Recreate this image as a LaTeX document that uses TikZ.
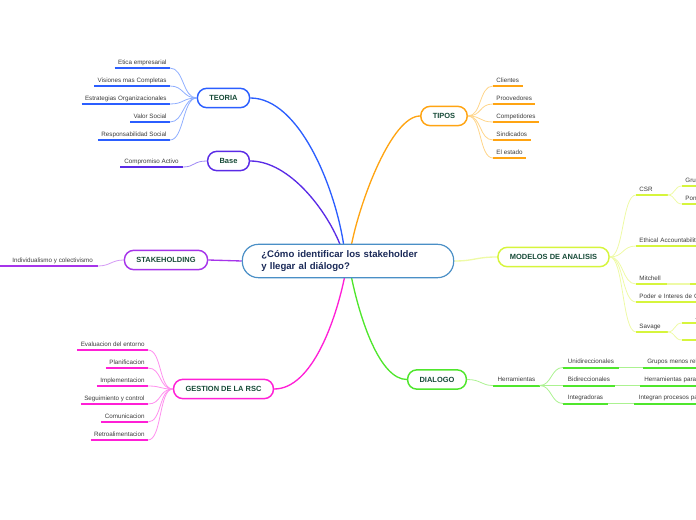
\documentclass[tikz,border=0pt]{standalone}
\usepackage{fontspec}
\setmainfont{Liberation Sans}
\usetikzlibrary{backgrounds}
\definecolor{cteo}{HTML}{2B5EFF}
\definecolor{cteol}{HTML}{8FAEFF}
\definecolor{cbase}{HTML}{5A2BE6}
\definecolor{cbasel}{HTML}{A08AF5}
\definecolor{cstk}{HTML}{A634EA}
\definecolor{cstkl}{HTML}{D49AF5}
\definecolor{cges}{HTML}{FF1FD6}
\definecolor{cgesl}{HTML}{FF90EE}
\definecolor{ctip}{HTML}{FFA412}
\definecolor{ctipl}{HTML}{FFD58A}
\definecolor{cmod}{HTML}{D6F53C}
\definecolor{cmodl}{HTML}{EEFAA6}
\definecolor{cdia}{HTML}{4FE62C}
\definecolor{cdial}{HTML}{ABF290}
\definecolor{ccen}{HTML}{4A8FC6}
\definecolor{ctxt}{HTML}{164A37}
\definecolor{cnavy}{HTML}{1B2A58}
\definecolor{cleaf}{HTML}{3C3C3C}
\tikzset{
  mainbox/.style={draw=#1, line width=1.1pt, rounded corners=7pt, fill=white,
    inner xsep=9pt, minimum height=14.5pt, text=ctxt,
    font=\bfseries\fontsize{5.6}{6.5}\selectfont},
  leaf/.style={inner xsep=2.4pt, inner ysep=1.6pt, text height=3.6pt, text depth=0.9pt,
    text=cleaf, font=\fontsize{4.7}{5.5}\selectfont},
  ul/.style={draw=#1, line width=1.5pt},
  lk/.style={draw=#1, line width=0.6pt},
  mk/.style={draw=#1, line width=1pt},
}
\begin{document}
\begin{tikzpicture}[x=0.75pt,y=-0.75pt]
\useasboundingbox (0,0) rectangle (696,520);
\clip (0,0) rectangle (696,520);

% central node
\node[draw=ccen, line width=0.9pt, rounded corners=12pt, fill=white, text width=130pt,
  align=left, inner xsep=14.25pt, minimum height=25pt, text=cnavy,
  font=\bfseries\fontsize{7.2}{8.3}\selectfont] (cen) at (348,261)
  {¿Cómo identificar los stakeholder\\y llegar al diálogo?};

% main nodes
\node[mainbox=cteo] (teoria) at (223.5,98) {TEORIA};
\node[mainbox=cbase] (base) at (228.5,161) {Base};
\node[mainbox=cstk] (stake) at (166,260) {STAKEHOLDING};
\node[mainbox=cges] (gestion) at (223.5,389) {GESTION DE LA RSC};
\node[mainbox=ctip] (tipos) at (444,116) {TIPOS};
\node[mainbox=cmod] (modelos) at (553.5,257) {MODELOS DE ANALISIS};
\node[mainbox=cdia] (dialogo) at (437,379.5) {DIALOGO};

\coordinate (cta) at (344,247);
\coordinate (ctb) at (341,247);
\coordinate (ctc) at (351,247);
\coordinate (cba) at (345,275);
\coordinate (cbb) at (351,275);

\begin{scope}[on background layer]
\draw[mk=cteo] (teoria.east) .. controls (300,98) and (336,190) .. (cta);
\draw[mk=cbase] (base.east) .. controls (290,161) and (328,212) .. (ctb);
\draw[mk=ctip] (tipos.west) .. controls (392,116) and (360,200) .. (ctc);
\draw[mk=cstk] (stake.east) -- (cen.west);
\draw[mk=cmodl] (cen.east) .. controls (475,261) and (475,257) .. (modelos.west);
\draw[mk=cges] (gestion.east) .. controls (312,389) and (336,320) .. (cba);
\draw[mk=cdia] (dialogo.west) .. controls (380,379.5) and (360,320) .. (cbb);
\end{scope}

% TEORIA leaves
\foreach \i/\t/\y in {1/Etica empresarial/68, 2/Visiones mas Completas/86,
  3/Estrategias Organizacionales/104, 4/Valor Social/122, 5/Responsabilidad Social/140}{
  \node[leaf, anchor=south east] (te\i) at (170,\y) {\t};
  \draw[ul=cteo] (te\i.south west) -- (te\i.south east);
  \draw[lk=cteol] (teoria.west) .. controls +(-14,0) and +(14,0) .. (te\i.south east);
}

% Base leaf
\node[leaf, anchor=south east, inner xsep=3pt] (ba1) at (183,167) {Compromiso Activo};
\draw[ul=cbase] (ba1.south west) -- (ba1.south east);
\draw[lk=cbasel] (base.west) .. controls +(-14,0) and +(12,0) .. (ba1.south east);

% STAKEHOLDING leaf
\node[leaf, anchor=south west] (st1) at (9,266) {Individualismo y colectivismo};
\coordinate (st1a) at (0,266);
\coordinate (st1b) at (98,266);
\draw[ul=cstk] (st1a) -- (st1b);
\draw[lk=cstkl] (stake.west) .. controls +(-12,0) and +(12,0) .. (st1b);

% GESTION leaves
\foreach \i/\t/\y in {1/Evaluacion del entorno/350, 2/Planificacion/368,
  3/Implementacion/386, 4/Seguimiento y control/404, 5/Comunicacion/422,
  6/Retroalimentacion/440}{
  \node[leaf, anchor=south east] (ge\i) at (148,\y) {\t};
  \draw[ul=cges] (ge\i.south west) -- (ge\i.south east);
  \draw[lk=cgesl] (gestion.west) .. controls +(-14,0) and +(14,0) .. (ge\i.south east);
}

% TIPOS leaves
\foreach \i/\t/\y in {1/Clientes/86, 2/Proovedores/104, 3/Competidores/122,
  4/Sindicados/140, 5/El estado/158}{
  \node[leaf, anchor=south west] (ti\i) at (493,\y) {\t};
  \draw[ul=ctip] (ti\i.south west) -- (ti\i.south east);
  \draw[lk=ctipl] (tipos.east) .. controls +(14,0) and +(-14,0) .. (ti\i.south west);
}

% MODELOS leaves
\node[leaf, anchor=south west, text width=18.5pt, align=left] (mo1) at (636,195) {CSR};
\node[leaf, anchor=south west, text width=70pt, align=left] (mo2) at (636,246) {Ethical Accountability};
\node[leaf, anchor=south west, text width=18pt, align=left] (mo3) at (636,284) {Mitchell};
\node[leaf, anchor=south west, text width=70pt, align=left] (mo4) at (636,302) {Poder e Interes de Chandler};
\node[leaf, anchor=south west, text width=18.5pt, align=left] (mo5) at (636,332) {Savage};
\foreach \i in {1,...,5}{
  \draw[ul=cmod] (mo\i.south west) -- (mo\i.south east);
  \draw[lk=cmodl] (modelos.east) .. controls +(14,0) and +(-14,0) .. (mo\i.south west);
}
% CSR children
\node[leaf, anchor=south west] (cs1) at (682,186) {Grupos};
\node[leaf, anchor=south west] (cs2) at (682,204) {Ponderacion};
% Mitchell child
\node[leaf, anchor=south west, minimum width=20pt] (mi1) at (690,284) {};
% Savage children
\node[leaf, anchor=south west, inner xsep=10pt] (sa1) at (682,323) {Apoyo};
\node[leaf, anchor=south west, inner xsep=10pt] (sa2) at (682,340) {Barreras};
\foreach \c/\p in {cs1/mo1, cs2/mo1, sa1/mo5, sa2/mo5}{
  \draw[ul=cmod] (\c.south west) -- (\c.south east);
  \draw[lk=cmodl] (\p.south east) .. controls +(8,0) and +(-8,0) .. (\c.south west);
}
\draw[ul=cmod] (mi1.south west) -- (mi1.south east);
\draw[line width=1.5pt, draw=cmodl] (mo3.south east) -- (mi1.south west);

% DIALOGO leaves
\node[leaf, anchor=south west, inner xsep=3.2pt] (he) at (493,385.5) {Herramientas};
\draw[ul=cdia] (he.south west) -- (he.south east);
\draw[lk=cdial] (dialogo.east) .. controls +(14,0) and +(-12,0) .. (he.south west);
\node[leaf, anchor=south west, inner xsep=3.5pt] (di1) at (563,367.5) {Unidireccionales};
\node[leaf, anchor=south west, inner xsep=3.5pt] (di2) at (563,385.5) {Bidireccionales};
\node[leaf, anchor=south west, inner xsep=3.5pt] (di3) at (563,403.5) {Integradoras};
\node[leaf, anchor=south west, inner xsep=3pt] (dg1) at (643,367.5) {Grupos menos relevantes};
\node[leaf, anchor=south west, inner xsep=3pt] (dg2) at (640,385.5) {Herramientas para el dialogo};
\node[leaf, anchor=south west, inner xsep=3.5pt] (dg3) at (634,403.5) {Integran procesos participativos};
\foreach \i in {1,2,3}{
  \draw[ul=cdia] (di\i.south west) -- (di\i.south east);
  \draw[lk=cdial] (he.south east) .. controls +(12,0) and +(-12,0) .. (di\i.south west);
  \draw[ul=cdia] (dg\i.south west) -- (dg\i.south east);
  \draw[lk=cdial] (di\i.south east) -- (dg\i.south west);
}
\end{tikzpicture}
\end{document}
